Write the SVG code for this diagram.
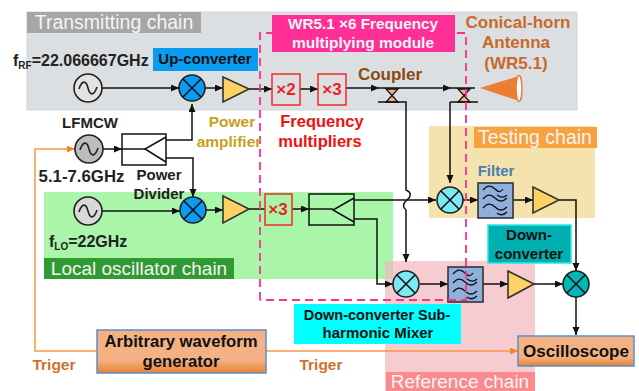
<svg xmlns="http://www.w3.org/2000/svg" width="639" height="391" viewBox="0 0 639 391">
<style>
text{font-family:"Liberation Sans",Arial,sans-serif;font-weight:700;text-anchor:middle}
.t{font-weight:400;font-size:19.500px;fill:#f4f4f4}
.w{fill:none;stroke:#111;stroke-width:1.5}
.wa{fill:none;stroke:#111;stroke-width:1.5;marker-end:url(#a)}
.o{fill:none;stroke:#f79646;stroke-width:1.5;marker-end:url(#oa)}
.c{stroke:#222;stroke-width:1.6}
.x{fill:none;stroke:#111;stroke-width:1.5}
.amp{fill:#fdd164;stroke:#333;stroke-width:1.6}
.flt{fill:#8fb0dc;stroke:#333;stroke-width:1.6}
.wave{fill:none;stroke:#111;stroke-width:1.3}
.box{fill:none;stroke:#f52a2a;stroke-width:1.5}
.div{fill:none;stroke:#111;stroke-width:1.5}
.k{font-size:15px;fill:#222}
.bl{font-size:15px;fill:#111}
.r{font-size:16.500px;fill:#f01010}
.h{font-size:17px;fill:#c8692a}
.tr{font-size:15.500px;fill:#d2702a}
.am{font-size:15.500px;fill:#c8a020}
</style>
<defs>
<marker id="a" markerWidth="9" markerHeight="8" refX="8" refY="3.5" orient="auto" markerUnits="userSpaceOnUse"><path d="M0 0L8 3.5L0 7Z" fill="#111"/></marker>
<marker id="oa" markerWidth="9" markerHeight="8" refX="8" refY="3.5" orient="auto" markerUnits="userSpaceOnUse"><path d="M0 0L8 3.5L0 7Z" fill="#f7861e"/></marker>
<linearGradient id="og" x1="0" y1="0" x2="0" y2="1"><stop offset="0" stop-color="#f4b183"/><stop offset=".7" stop-color="#f4b183"/><stop offset="1" stop-color="#e8822e"/></linearGradient>
<g id="sine"><path d="M-9 1C-6 -8 -2 -8 0 0S6 8 9 -1" fill="none" stroke="#222" stroke-width="1.6"/></g>
<g id="cross"><path d="M-9 -9L9 9M9 -9L-9 9" fill="none" stroke="#111" stroke-width="1.6"/></g>
<g id="waves"><path class="wave" d="M-12 -10c4 -5 8 -5 12 -1s6 3 8 0M-12 -1c4 -5 8 -5 12 -1s8 4 12 0M-12 8c4 -5 8 -5 12 -1s8 4 12 0M2 -5c4 3 7 3 10 0M2 13c4 3 7 2 10 -1"/></g>
</defs>

<g id="panels">
<rect x="27" y="12" width="550" height="98" fill="#dcdfe1" stroke="#d0d4dc"/>
<rect x="429" y="126" width="166" height="92" fill="#f5e3ae"/>
<rect x="44" y="192" width="349" height="87" fill="#a9f5a9"/>
<rect x="385" y="261" width="150" height="130" fill="#f2b8bf" fill-opacity=".72"/>
</g>

<g id="title-transmitting"><rect x="27" y="12" width="174" height="21" fill="#a6a6a6"/><text class="t" x="114" y="29">Transmitting chain</text></g>
<g id="title-testing"><rect x="474" y="127" width="123" height="21" fill="#f8a13f"/><text class="t" x="535" y="144">Testing chain</text></g>
<g id="title-lo"><rect x="44" y="258" width="190" height="21" fill="#329a32"/><text class="t" x="139" y="275" style="font-size:19px">Local oscillator chain</text></g>
<g id="title-reference"><rect x="386" y="372" width="149" height="19" fill="#fb8a8f"/><text class="t" x="460" y="388" style="font-size:19px">Reference chain</text></g>

<g id="connectors">
<path class="wa" d="M102 88H179"/>
<path class="wa" d="M205 88H223"/>
<path class="wa" d="M249 89H272"/>
<path class="wa" d="M300 89H318"/>
<path class="wa" d="M346 88H379"/>
<path class="w" d="M379 88H395"/>
<path class="wa" d="M395 88H451"/>
<path class="w" d="M451 88H475"/>
<path class="wa" d="M405 102H406V190C411 192 412 196 407 200C402 204 403 208 406 210V262"/>
<path class="wa" d="M450 102V183"/>
<path class="wa" d="M103 149H122"/>
<path class="w" d="M122 149H145"/>
<path class="wa" d="M166 140H192V104"/>
<path class="wa" d="M166 158H193V197"/>
<path class="wa" d="M102 211H180"/>
<path class="wa" d="M206 210H223"/>
<path class="w" d="M249 209H265"/>
<path class="wa" d="M292 209H309"/>
<path class="w" d="M309 209H333"/>
<path class="wa" d="M354 200H436"/>
<path class="wa" d="M354 219H377V284H393"/>
<path class="wa" d="M420 284H448"/>
<path class="wa" d="M483 284H508"/>
<path class="wa" d="M534 284H563"/>
<path class="wa" d="M463 200H478"/>
<path class="wa" d="M513 200H533"/>
<path class="wa" d="M559 200H576V271"/>
<path class="wa" d="M576 297V335"/>
<path class="o" d="M97 351H35V149H75"/>
<path class="o" d="M266 351H518"/>
</g>

<g id="source-rf"><circle cx="88" cy="88" r="14" fill="#e3e3e3" class="c"/><use href="#sine" x="88" y="88"/></g>
<g id="source-lfmcw"><circle cx="89" cy="149" r="14" fill="#bdbdbd" class="c"/><use href="#sine" x="89" y="149"/></g>
<g id="source-lo"><circle cx="88" cy="211" r="14" fill="#d9d9d9" class="c"/><use href="#sine" x="88" y="211"/></g>

<g id="mixer-up"><circle cx="192" cy="88" r="13" fill="#0a9cf0" class="c"/><use href="#cross" x="192" y="88"/></g>
<g id="mixer-lo"><circle cx="193" cy="210" r="13" fill="#0a9cf0" class="c"/><use href="#cross" x="193" y="210"/></g>
<g id="mixer-test"><circle cx="450" cy="200" r="13" fill="#7de8f5" class="c"/><use href="#cross" x="450" y="200"/></g>
<g id="mixer-ref"><circle cx="406" cy="284" r="13" fill="#7de8f5" class="c"/><use href="#cross" x="406" y="284"/></g>
<g id="mixer-down"><circle cx="576" cy="284" r="13" fill="#00b8b8" class="c"/><use href="#cross" x="576" y="284"/></g>

<g id="amp-tx"><path class="amp" d="M223 77L249 89L223 102Z"/></g>
<g id="amp-lo"><path class="amp" d="M223 196L249 209L223 223Z"/></g>
<g id="amp-test"><path class="amp" d="M533 187L559 200L533 213Z"/></g>
<g id="amp-ref"><path class="amp" d="M508 271L534 284L508 298Z"/></g>

<g id="mult-x2"><rect class="box" x="272" y="74" width="28" height="31"/><text x="286" y="95" font-size="17" fill="#ef1f1f">×2</text></g>
<g id="mult-x3"><rect class="box" x="318" y="74" width="28" height="31"/><text x="332" y="95" font-size="17" fill="#ef1f1f">×3</text></g>
<g id="mult-x3-lo"><rect class="box" x="265" y="194" width="27" height="31"/><text x="278" y="215" font-size="17" fill="#ef1f1f">×3</text></g>

<g id="divider-1"><rect class="div" x="122" y="134" width="44" height="31"/><path class="div" d="M166 137L145 149L166 162"/></g>
<g id="divider-2"><rect class="div" x="309" y="194" width="45" height="31"/><path class="div" d="M354 198L333 210L354 222"/></g>

<g id="coupler-1"><path d="M386 89H398L392 95.500L398 102H386L392 95.500Z" fill="#f4b183" stroke="#111" stroke-width="1.300"/><path class="x" d="M378 102H405"/></g>
<g id="coupler-2"><path d="M458 89H470L464 95.500L470 102H458L464 95.500Z" fill="#f4b183" stroke="#111" stroke-width="1.300"/><path class="x" d="M450 102H478"/></g>

<g id="horn"><path d="M480 88L519 76V101Z" fill="#ed7d31"/><ellipse cx="519" cy="88.500" rx="3" ry="13" fill="#fff" stroke="#ed7d31" stroke-width="1.500"/></g>

<g id="filter-test"><rect class="flt" x="478" y="183" width="35" height="35"/><use href="#waves" x="495" y="200"/></g>
<g id="filter-ref"><rect class="flt" x="448" y="267" width="35" height="35"/><use href="#waves" x="465" y="284"/></g>

<g id="module-frame">
<path d="M260 300V33H272M457 33H466V300H260" fill="none" stroke="#ff2f92" stroke-width="1.800" stroke-dasharray="8 5"/>
</g>

<g id="module-label"><rect x="272" y="15" width="183" height="37" fill="#ff2f97"/><text x="363" y="29" font-size="15.300" fill="#f6f6f6">WR5.1 ×6 Frequency</text><text x="363" y="48" font-size="15.500" fill="#f6f6f6">multiplying module</text></g>

<g id="label-down"><rect x="488" y="225" width="83" height="38" fill="#00b0b0" stroke="#2ee6e6" stroke-width="1.500"/><text class="bl" x="529" y="240">Down-</text><text class="bl" x="529" y="259">converter</text></g>
<g id="label-sub"><rect x="294" y="304" width="167" height="40" fill="#00ffff"/><text class="bl" x="377" y="320" style="font-size:14.500px">Down-converter Sub-</text><text class="bl" x="378" y="338">harmonic Mixer</text></g>
<g id="label-up"><rect x="153" y="48" width="105" height="23" fill="#0a9cf0"/><text class="bl" x="205" y="64">Up-converter</text></g>

<g id="awg"><rect x="97" y="330" width="169" height="43" fill="url(#og)" stroke="#5b8fc9" stroke-width="1.500"/><text class="bl" x="181" y="347" style="font-size:16.700px">Arbitrary waveform</text><text class="bl" x="181" y="367" style="font-size:16.700px">generator</text></g>
<g id="oscilloscope"><rect x="518" y="336" width="116" height="30" fill="url(#og)" stroke="#5b8fc9" stroke-width="1.500"/><text x="576" y="357" font-size="17" fill="#111">Oscilloscope</text></g>

<g id="labels">
<text class="k" x="13" y="66" style="text-anchor:start;font-size:16px">f<tspan font-size="10" dy="3">RF</tspan><tspan dy="-3">=22.066667GHz</tspan></text>
<text class="k" x="90" y="128">LFMCW</text>
<text class="k" x="81.500" y="182" style="font-size:16.800px">5.1-7.6GHz</text>
<text class="k" x="159" y="180">Power</text>
<text class="k" x="159" y="199">Divider</text>
<text class="k" x="49" y="247" style="text-anchor:start;font-size:16px">f<tspan font-size="10" dy="3">LO</tspan><tspan dy="-3">=22GHz</tspan></text>
<text class="am" x="232" y="127">Power</text>
<text class="am" x="229" y="147">amplifier</text>
<text class="r" x="322" y="127">Frequency</text>
<text class="r" x="320" y="147">multipliers</text>
<text x="390" y="80" font-size="17" fill="#8a4a14">Coupler</text>
<text class="h" x="518" y="28">Conical-horn</text>
<text class="h" x="516" y="48">Antenna</text>
<text class="h" x="516" y="69">(WR5.1)</text>
<text x="496" y="176" font-size="15" fill="#4a7eb0">Filter</text>
<text class="tr" x="54" y="370">Triger</text>
<text class="tr" x="321" y="370">Triger</text>
</g>
</svg>
